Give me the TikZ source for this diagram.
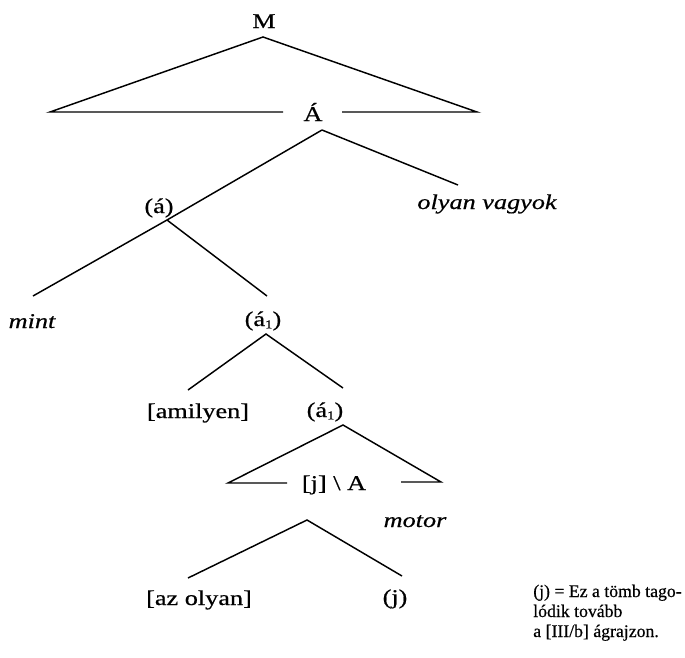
\documentclass[tikz,border=0pt]{standalone}
\usepackage{fontspec}
\setmainfont[FakeBold=0.5]{Liberation Serif}
\newfontfamily\lblfont[FakeStretch=1.25,FakeBold=0.6]{Liberation Serif}
\newcommand{\subone}{\raisebox{-0.25ex}{\fontsize{9}{9}\selectfont 1}}
\begin{document}
\begin{tikzpicture}[x=0.75pt,y=-0.75pt,
  lbl/.style={inner sep=0pt,anchor=base,font=\lblfont\fontsize{15.75}{18}\selectfont},
  note/.style={inner sep=0pt,anchor=base west,font=\fontsize{13.3}{15}\selectfont},
  br/.style={line width=1.1pt,line join=miter}]
\useasboundingbox (0,0) rectangle (685,657);
% labels
\node[lbl] (M) at (264,28) {M};
\node[lbl] (A) at (313,121) {Á};
\node[lbl] (a) at (159,213) {(á)};
\node[lbl] (ov) at (487,209) {\itshape olyan vagyok};
\node[lbl] (mint) at (32,328) {\itshape mint};
\node[lbl] (a1) at (263,326) {(á\subone)};
\node[lbl] (amilyen) at (198,418) {[amilyen]};
\node[lbl] (a1b) at (325,417) {(á\subone)};
\node[lbl] (jA) at (334,490) {[j] \textbackslash\ A};
\node[lbl] (motor) at (415,527) {\itshape motor};
\node[lbl] (azolyan) at (199,605) {[az olyan]};
\node[lbl] (j) at (395,604) {(j)};
\node[note] (n1) at (533,597) {(j) = Ez a tömb tago-};
\node[note] (n2) at (533,617) {lódik tovább};
\node[note] (n3) at (533,637) {a [III/b] ágrajzon.};
% coordinates
\coordinate (Mt) at (263,37);
\coordinate (ML) at (50,112);
\coordinate (MR) at (477,112);
\coordinate (MLi) at (283,112);
\coordinate (MRi) at (342,112);
\coordinate (At) at (322,130);
\coordinate (aJ) at (167,220);
\coordinate (mintT) at (33,296);
\coordinate (ovT) at (458,185);
\coordinate (a1B) at (267,296);
\coordinate (a1t) at (266,334);
\coordinate (amT) at (188,390);
\coordinate (a1bT) at (343,388);
\coordinate (a1bt) at (343,425);
\coordinate (jL) at (228,483);
\coordinate (jR) at (441,482);
\coordinate (jLi) at (287,483);
\coordinate (jRi) at (401,482);
\coordinate (jAt) at (307,520);
\coordinate (azT) at (188,578);
\coordinate (jT) at (402,576);
% branches
\draw[br] (MLi) -- (ML) -- (Mt) -- (MR) -- (MRi);
\draw[br] (At) -- (aJ) -- (mintT);
\draw[br] (At) -- (ovT);
\draw[br] (aJ) -- (a1B);
\draw[br] (amT) -- (a1t) -- (a1bT);
\draw[br] (jLi) -- (jL) -- (a1bt) -- (jR) -- (jRi);
\draw[br] (azT) -- (jAt) -- (jT);
\end{tikzpicture}
\end{document}
